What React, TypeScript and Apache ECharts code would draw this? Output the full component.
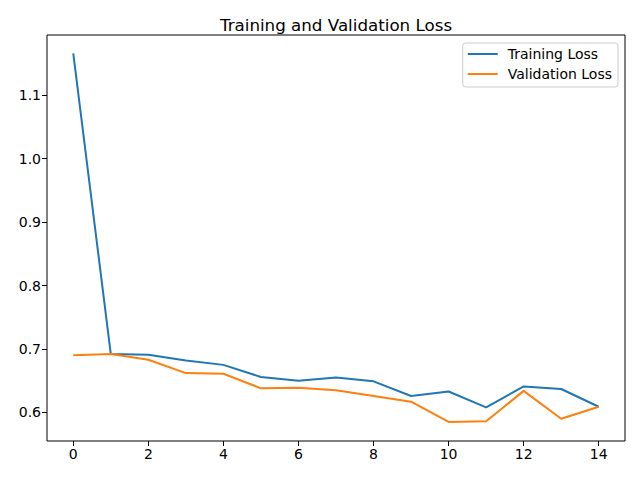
import React, { useEffect, useRef } from "react";
import * as echarts from "echarts";

const epochs = [0, 1, 2, 3, 4, 5, 6, 7, 8, 9, 10, 11, 12, 13, 14];
const trainingLoss = [1.166, 0.692, 0.691, 0.682, 0.675, 0.656, 0.650, 0.655, 0.649, 0.626, 0.633, 0.608, 0.641, 0.637, 0.609];
const validationLoss = [0.690, 0.692, 0.683, 0.662, 0.661, 0.638, 0.639, 0.635, 0.626, 0.617, 0.585, 0.586, 0.634, 0.590, 0.609];
const xTicks = [0, 2, 4, 6, 8, 10, 12, 14];
const yTicks = [0.6, 0.7, 0.8, 0.9, 1.0, 1.1];

const FONT = "DejaVu Sans";

export default function App() {
  const ref = useRef<HTMLDivElement>(null);
  useEffect(() => {
    if (!ref.current) return;
    const chart = echarts.init(ref.current, undefined, { renderer: "svg" });
    const axisCommon = {
      axisLine: { show: false, onZero: false },
      splitLine: { show: false },
      axisTick: { show: true, inside: false, length: 5, lineStyle: { color: "#000", width: 1 } },
      axisLabel: { color: "#000", fontFamily: FONT, fontSize: 14, margin: 6 },
    };
    chart.setOption({
      animation: false,
      backgroundColor: "#fff",
      title: {
        text: "Training and Validation Loss",
        left: 331,
        top: 11,
        textAlign: "center",
        textStyle: { fontFamily: FONT, fontSize: 16.7, fontWeight: "normal", color: "#000" },
      },
      grid: {
        left: 47,
        right: 15,
        top: 35,
        bottom: 39,
        show: true,
        borderColor: "#000",
        borderWidth: 1,
        backgroundColor: "transparent",
      },
      legend: {
        orient: "vertical",
        right: 22,
        top: 43,
        padding: [4, 6, 6, 5],
        itemGap: 6,
        itemWidth: 30,
        itemHeight: 2,
        icon: "rect",
        backgroundColor: "rgba(255,255,255,0.8)",
        borderColor: "#cccccc",
        borderWidth: 1,
        borderRadius: 3,
        textStyle: { fontFamily: FONT, fontSize: 14, color: "#000", lineHeight: 14, padding: [0, 0, 0, 5] },
        data: ["Training Loss", "Validation Loss"],
      },
      xAxis: {
        type: "value",
        min: -0.7,
        max: 14.7,
        ...axisCommon,
        axisTick: { ...axisCommon.axisTick, customValues: xTicks },
        axisLabel: { ...axisCommon.axisLabel, customValues: xTicks, formatter: (v: number) => String(v) },
      },
      yAxis: {
        type: "value",
        min: 0.555,
        max: 1.195,
        ...axisCommon,
        axisTick: { ...axisCommon.axisTick, customValues: yTicks },
        axisLabel: { ...axisCommon.axisLabel, customValues: yTicks, formatter: (v: number) => v.toFixed(1) },
      },
      series: [
        {
          name: "Training Loss",
          type: "line",
          data: epochs.map((e, i) => [e, trainingLoss[i]]),
          showSymbol: false,
          symbol: "none",
          lineStyle: { color: "#1f77b4", width: 2 },
          itemStyle: { color: "#1f77b4" },
        },
        {
          name: "Validation Loss",
          type: "line",
          data: epochs.map((e, i) => [e, validationLoss[i]]),
          showSymbol: false,
          symbol: "none",
          lineStyle: { color: "#ff7f0e", width: 2 },
          itemStyle: { color: "#ff7f0e" },
        },
      ],
    });
    return () => chart.dispose();
  }, []);
  return <div ref={ref} style={{ position: "fixed", left: 0, top: 0, width: 640, height: 480 }} />;
}
